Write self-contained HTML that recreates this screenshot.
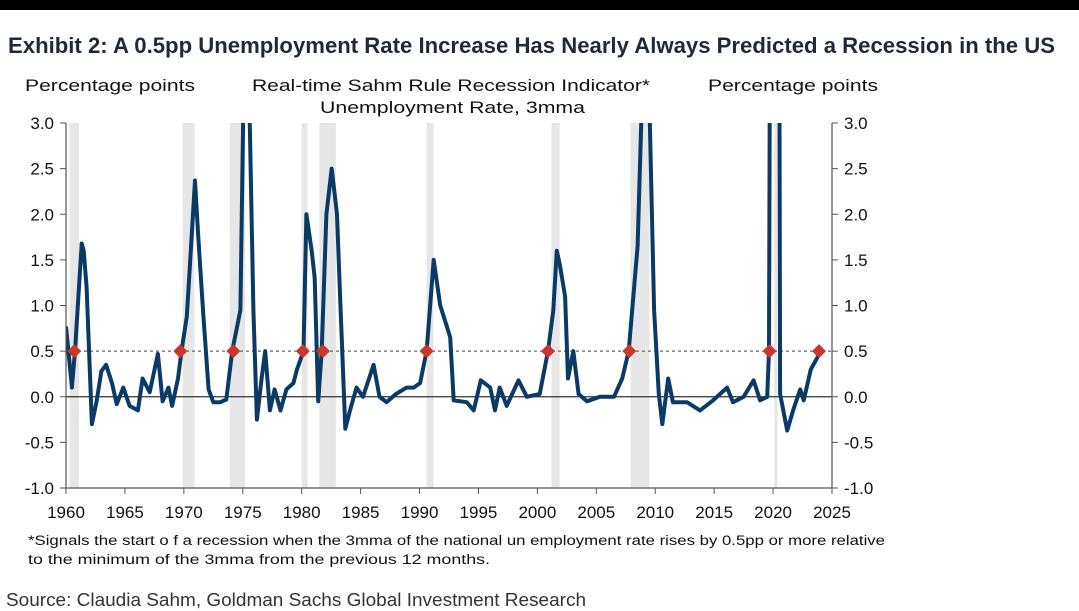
<!DOCTYPE html>
<html><head><meta charset="utf-8"><style>
body{margin:0;background:#fff;width:1079px;height:611px;overflow:hidden}
svg{display:block}
</style></head><body>
<svg id="chart" width="1079" height="611" xmlns="http://www.w3.org/2000/svg" font-family="Liberation Sans, sans-serif">
<rect x="0" y="0" width="1079" height="10" fill="#000"/>
<text x="8" y="53" font-size="22" font-weight="bold" fill="#1f2937" textLength="1047" lengthAdjust="spacingAndGlyphs">Exhibit 2: A 0.5pp Unemployment Rate Increase Has Nearly Always Predicted a Recession in the US</text>
<text x="25" y="91" font-size="17" fill="#111" textLength="170" lengthAdjust="spacingAndGlyphs">Percentage  points</text>
<text x="708" y="91" font-size="17" fill="#111" textLength="170" lengthAdjust="spacingAndGlyphs">Percentage  points</text>
<text x="252" y="91" font-size="17" fill="#111" textLength="398" lengthAdjust="spacingAndGlyphs">Real-time  Sahm Rule Recession Indicator*</text>
<text x="320" y="113" font-size="17" fill="#111" textLength="265" lengthAdjust="spacingAndGlyphs">Unemployment  Rate,  3mma</text>
<g id="bands"></g>
<g id="grid"></g>
<g id="series"></g>
<g id="axes"></g>
<text x="28" y="545" font-size="13.5" fill="#111" textLength="857" lengthAdjust="spacingAndGlyphs">*Signals the start o f a recession when the 3mma of the national un employment rate rises by 0.5pp or more relative</text>
<text x="28" y="564" font-size="13.5" fill="#111" textLength="462" lengthAdjust="spacingAndGlyphs">to the minimum  of the 3mma  from the previous 12 months.</text>
<text x="6" y="606" font-size="18" fill="#333" textLength="580" lengthAdjust="spacingAndGlyphs">Source: Claudia Sahm, Goldman Sachs Global Investment Research</text>
</svg>
<script>
const years=[1960,1960.5,1960.76,1961.33,1961.5,1961.75,1962.2,1962.6,1963,1963.4,1963.9,1964.3,1964.86,1965.4,1966.1,1966.5,1967.1,1967.8,1968.2,1968.7,1969,1969.5,1969.8,1970.25,1970.5,1970.95,1971.2,1971.65,1972.1,1972.5,1973.1,1973.6,1974.1,1974.8,1975.1,1975.5,1975.9,1976.2,1976.6,1976.9,1977.3,1977.7,1978.2,1978.7,1979.3,1979.6,1980.15,1980.4,1980.85,1981.1,1981.4,1981.7,1982.1,1982.55,1983,1983.26,1983.7,1984.1,1984.65,1985.2,1986.1,1986.6,1987.2,1988,1988.9,1989.5,1990.05,1990.6,1991.2,1991.75,1992.3,1992.6,1992.9,1994,1994.6,1995.2,1996,1996.4,1996.8,1997.4,1998.4,1999.1,2000.2,2000.9,2001.35,2001.65,2001.9,2002.35,2002.6,2003.05,2003.5,2004.2,2005.3,2006.5,2007.2,2007.75,2008.5,2009.0,2009.4,2009.9,2010.3,2010.6,2011.1,2011.5,2012.7,2013.8,2014.9,2016.1,2016.6,2017.5,2018.35,2018.9,2019.5,2019.65,2019.85,2020.45,2020.6,2021.2,2021.7,2022.3,2022.6,2023.2,2023.85];
const values=[0.77,0.1,0.5,1.68,1.6,1.2,-0.3,-0.05,0.28,0.35,0.15,-0.08,0.1,-0.1,-0.15,0.2,0.05,0.47,-0.05,0.1,-0.1,0.2,0.5,0.88,1.4,2.37,1.8,0.9,0.08,-0.06,-0.06,-0.03,0.5,0.95,3.6,3.6,0.95,-0.25,0.2,0.5,-0.15,0.08,-0.15,0.08,0.15,0.3,0.5,2.0,1.6,1.3,-0.05,0.5,2.0,2.5,2.0,1.1,-0.35,-0.15,0.1,0.0,0.35,0.0,-0.06,0.03,0.1,0.1,0.15,0.5,1.5,1.0,0.78,0.65,-0.04,-0.06,-0.15,0.18,0.1,-0.15,0.1,-0.1,0.18,0.0,0.03,0.5,0.95,1.6,1.45,1.1,0.2,0.5,0.03,-0.05,0.0,0.0,0.2,0.5,1.65,3.8,3.8,0.95,0.03,-0.3,0.2,-0.06,-0.06,-0.15,-0.04,0.1,-0.06,0.0,0.18,-0.04,0.0,0.5,9.0,9.0,0.03,-0.37,-0.15,0.08,-0.04,0.3,0.45];
const signalYears=[1960.7,1969.7,1974.2,1980.1,1981.8,1990.6,2000.9,2007.8,2019.7,2023.9];
const recessionStarts=[1960.3,1969.9,1973.9,1980.0,1981.5,1990.6,2001.2,2007.9,2020.1];
const recessionEnds=[1961.1,1970.9,1975.2,1980.5,1982.9,1991.2,2001.9,2009.5,2020.3];
const yTicks=[3.0,2.5,2.0,1.5,1.0,0.5,0.0,-0.5,-1.0];
const xTicks=[1960,1965,1970,1975,1980,1985,1990,1995,2000,2005,2010,2015,2020,2025];
const threshold=0.5;
const L=66,R=832,T=123,B=488;
const xs=y=>L+(y-1960)*(R-L)/65;
const ys=v=>B-(v+1)*(B-T)/4;
const NS='http://www.w3.org/2000/svg';
function mk(tag,attrs,parent){const e=document.createElementNS(NS,tag);for(const k in attrs)e.setAttribute(k,attrs[k]);document.getElementById(parent).appendChild(e);return e;}
const svg=document.getElementById('chart');
const defs=document.createElementNS(NS,'defs');
defs.innerHTML='<clipPath id="pc"><rect x="'+L+'" y="'+T+'" width="'+(R-L)+'" height="'+(B-T)+'"/></clipPath>';
svg.insertBefore(defs,svg.firstChild);
recessionStarts.forEach((s,i)=>{
  const r=mk('rect',{x:xs(s),y:T,width:Math.max(3,xs(recessionEnds[i])-xs(s)),height:B-T,fill:'#e6e6e6'},'bands');
  
  
});
const z=mk('line',{x1:L,x2:R,y1:ys(0),y2:ys(0),stroke:'#333','stroke-width':1.2},'grid');


const th=mk('line',{x1:L,x2:R,y1:ys(threshold),y2:ys(threshold),stroke:'#666','stroke-width':1.2,'stroke-dasharray':'3,3'},'grid');


const d=years.map((y,i)=>(i?'L':'M')+xs(y).toFixed(1)+','+ys(values[i]).toFixed(1)).join(' ');
const p=mk('path',{d:d,fill:'none',stroke:'#0b3a66','stroke-width':4,'stroke-linejoin':'round','clip-path':'url(#pc)'},'series');


signalYears.forEach(y=>{
  const cx=xs(y),cy=ys(threshold),s=7;
  const m=mk('polygon',{points:`${cx},${cy-s} ${cx+s},${cy} ${cx},${cy+s} ${cx-s},${cy}`,fill:'#c8372d'},'series');
  
  
});
const ax=[['left-axis',L,T,L,B],['right-axis',R,T,R,B],['x-axis',L,B,R,B]];
ax.forEach(a=>{const l=mk('line',{x1:a[1],y1:a[2],x2:a[3],y2:a[4],stroke:'#555','stroke-width':1.2},'axes');
  
  });
yTicks.forEach(v=>{
  const y=ys(v);
  mk('line',{x1:L-6,x2:L,y1:y,y2:y,stroke:'#555'},'axes');
  mk('line',{x1:R,x2:R+6,y1:y,y2:y,stroke:'#555'},'axes');
  const t1=mk('text',{x:L-12,y:y+6,'font-size':17,'text-anchor':'end',fill:'#111'},'axes');t1.textContent=v.toFixed(1);
  
  
  const t2=mk('text',{x:R+12,y:y+6,'font-size':17,fill:'#111'},'axes');t2.textContent=v.toFixed(1);
  
  
});
xTicks.forEach(yr=>{
  const x=xs(yr);
  mk('line',{x1:x,x2:x,y1:B,y2:B+6,stroke:'#555'},'axes');
  const t=mk('text',{x:x,y:B+30,'font-size':17,'text-anchor':'middle',fill:'#111'},'axes');t.textContent=yr;
  
  
});
</script>
</body></html>
